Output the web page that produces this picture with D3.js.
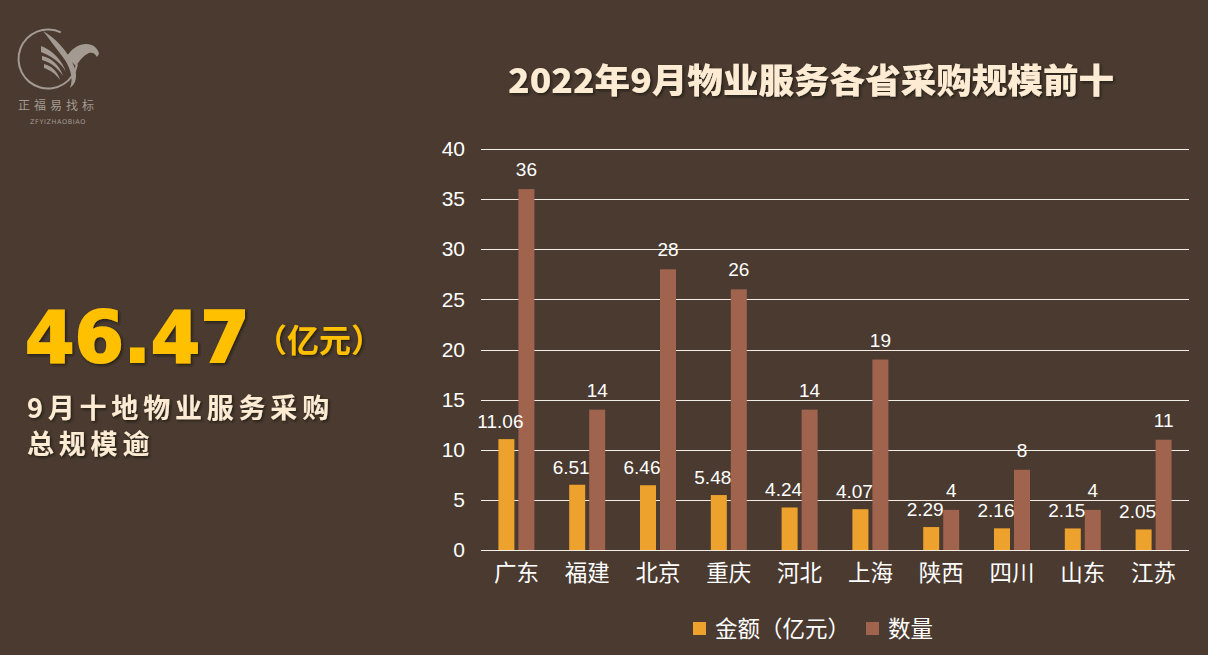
<!DOCTYPE html>
<html><head><meta charset="utf-8">
<script src="https://cdn.jsdelivr.net/npm/d3@7/dist/d3.min.js"></script>
<style>
html,body{margin:0;padding:0;background:#4a3a30;}
svg{display:block;}
</style></head>
<body>
<svg id="chart" width="1208" height="655"></svg>
<script>
const categories = ["广东","福建","北京","重庆","河北","上海","陕西","四川","山东","江苏"];
const amounts = [11.06, 6.51, 6.46, 5.48, 4.24, 4.07, 2.29, 2.16, 2.15, 2.05];
const counts = [36, 14, 28, 26, 14, 19, 4, 8, 4, 11];
const yTicks = [0, 5, 10, 15, 20, 25, 30, 35, 40];
const seriesNames = ["金额（亿元）", "数量"];
const titleText = "2022年9月物业服务各省采购规模前十";
const totalValue = "46.47";

const W = 1208, H = 655;
const svg = d3.select("#chart");
const bg = "#4a3a30";
const orange = "#eda22e", brown = "#a0634e", cream = "#fdebd3";
const cjk = "'Noto Sans CJK SC','Noto Sans',sans-serif";
const logoC = "#a39a92";

svg.append("rect").attr("width", W).attr("height", H).attr("fill", bg);

const defs = svg.append("defs");
const f = defs.append("filter").attr("id","shadow").attr("x","-10%").attr("y","-10%").attr("width","130%").attr("height","140%");
f.append("feDropShadow").attr("dx",1.5).attr("dy",1.5).attr("stdDeviation",1).attr("flood-color","#1e140e").attr("flood-opacity",0.8);

// Logo
const logo = svg.append("g").attr("fill", logoC);
logo.append("path").attr("d", d3.arc()({innerRadius:28.5, outerRadius:30.5, startAngle:1.75, endAngle:2*Math.PI + 0.45}))
  .attr("transform","translate(48,59)");
logo.append("path").attr("d","M43,31 C56,38 68,52 74,66 C78,76 76,84 70,88 C74,78 70,66 62,56 C56,48 50,40 43,31 Z");
logo.append("path").attr("d","M41,46 C52,50 62,60 66,72 C62,64 52,56 41,52 Z");
logo.append("path").attr("d","M42,56 C52,58 60,66 63,76 C58,68 50,62 42,60 Z");
logo.append("path").attr("d","M44,64 C52,66 58,72 60,80 C56,74 50,70 44,68 Z");
logo.append("path").attr("d","M66,58 C70,50 78,44 86,44 C93,44 98,48 99,54 L97,57 C95,53 92,52 89,53 C84,55 80,60 76,66 C73,63 70,60 66,58 Z");
svg.append("text").attr("x",58).attr("y",110).attr("text-anchor","middle").attr("fill",logoC)
  .attr("font-family",cjk).attr("font-size",12).attr("letter-spacing",4).text("正福易找标");
svg.append("text").attr("x",58).attr("y",124).attr("text-anchor","middle").attr("fill",logoC)
  .attr("font-family","'DejaVu Sans',sans-serif").attr("font-size",6.5).attr("letter-spacing",0.6).text("ZFYIZHAOBIAO");

// Left summary
svg.append("text").attr("x",25).attr("y",362).attr("fill","#ffc000").attr("filter","url(#shadow)")
  .attr("font-family","'DejaVu Sans',sans-serif").attr("font-weight","bold").attr("font-size",71)
  .attr("stroke","#ffc000").attr("stroke-width",2).text(totalValue);
svg.append("text").attr("x",255).attr("y",352).attr("fill","#ffc000").attr("filter","url(#shadow)")
  .attr("font-family",cjk).attr("font-weight","bold").attr("font-size",32).text("（亿元）");
svg.append("text").attr("x",27).attr("y",418).attr("fill",cream).attr("filter","url(#shadow)")
  .attr("font-family",cjk).attr("font-weight","bold").attr("font-size",27).attr("letter-spacing",4.8).text("9月十地物业服务采购");
svg.append("text").attr("x",27).attr("y",454).attr("fill",cream).attr("filter","url(#shadow)")
  .attr("font-family",cjk).attr("font-weight","bold").attr("font-size",27).attr("letter-spacing",4.8).text("总规模逾");

// Title
svg.append("text").attr("x",811).attr("y",93).attr("text-anchor","middle").attr("fill",cream).attr("filter","url(#shadow)")
  .attr("font-family",cjk).attr("font-weight","900").attr("font-size",34).attr("textLength",606).attr("lengthAdjust","spacingAndGlyphs").text(titleText);

// Chart
const x0 = 481, x1 = 1189, yTop = 149, yBot = 550;
const x = d3.scaleBand().domain(categories).range([x0, x1]).paddingInner(0).paddingOuter(0);
const y = d3.scaleLinear().domain([0, 40]).range([yBot, yTop]);
const barW = 16, gap = 4;

const grid = svg.append("g");
grid.selectAll("line").data(yTicks).join("line")
  .attr("x1", x0).attr("x2", x1).attr("y1", d => Math.round(y(d))+0.5).attr("y2", d => Math.round(y(d))+0.5)
  .attr("stroke", "#f4eee8").attr("stroke-width", 1.2);

const yAxis = svg.append("g").attr("transform", `translate(${x0},0)`)
  .call(d3.axisLeft(y).tickValues(yTicks).tickSize(0).tickPadding(16));
yAxis.select(".domain").remove();
yAxis.selectAll("text").attr("fill", "#ffffff").attr("font-family","'Liberation Sans',Arial,sans-serif").attr("font-size", 21);

const xAxis = svg.append("g").attr("transform", `translate(0,${yBot})`)
  .call(d3.axisBottom(x).tickSize(0).tickPadding(15));
xAxis.select(".domain").remove();
xAxis.selectAll("text").attr("fill", "#ffffff").attr("font-family", cjk).attr("font-size", 22.5);

const cx = d => x(d) + x.bandwidth()/2;

svg.append("g").selectAll("rect").data(categories).join("rect")
  .attr("x", d => cx(d) - gap/2 - barW).attr("width", barW)
  .attr("y", (d,i) => y(amounts[i])).attr("height", (d,i) => yBot - y(amounts[i]))
  .attr("fill", orange);
svg.append("g").selectAll("rect").data(categories).join("rect")
  .attr("x", d => cx(d) + gap/2).attr("width", barW)
  .attr("y", (d,i) => y(counts[i])).attr("height", (d,i) => yBot - y(counts[i]))
  .attr("fill", brown);

const lblFont = "'Liberation Sans',Arial,sans-serif";
svg.append("g").selectAll("text").data(categories).join("text")
  .attr("x", d => cx(d) - gap/2 - barW/2 - 6).attr("y", (d,i) => y(amounts[i]) - 11)
  .attr("text-anchor","middle").attr("fill","#ffffff").attr("font-family",lblFont).attr("font-size",19)
  .text((d,i) => amounts[i].toFixed(2));
svg.append("g").selectAll("text").data(categories).join("text")
  .attr("x", d => cx(d) + gap/2 + barW/2).attr("y", (d,i) => y(counts[i]) - 13)
  .attr("text-anchor","middle").attr("fill","#ffffff").attr("font-family",lblFont).attr("font-size",19)
  .text((d,i) => counts[i]);

// Legend
const legend = svg.append("g");
const legendItems = [{name: seriesNames[0], color: orange, x: 693}, {name: seriesNames[1], color: brown, x: 866}];
legendItems.forEach(it => {
  legend.append("rect").attr("x", it.x).attr("y", 622).attr("width", 13).attr("height", 13).attr("fill", it.color);
  legend.append("text").attr("x", it.x + 22).attr("y", 637).attr("fill","#ffffff").attr("font-family",cjk).attr("font-size",22.5).text(it.name);
});
</script>
</body></html>
